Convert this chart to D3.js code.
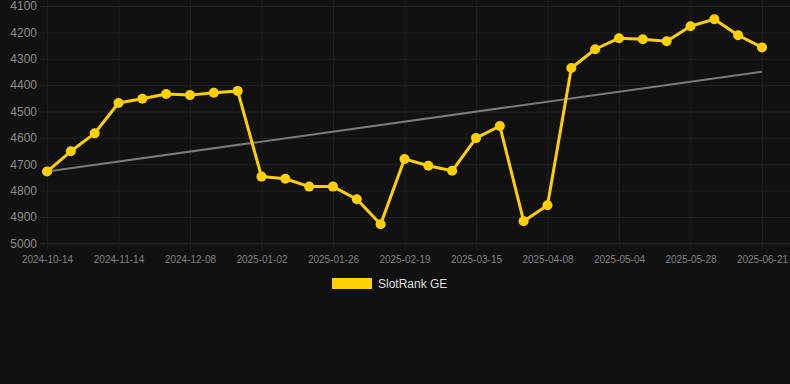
<!DOCTYPE html>
<html>
<head>
<meta charset="utf-8">
<script src="https://cdn.jsdelivr.net/npm/d3@7"></script>
<style>
  html, body { margin: 0; padding: 0; background: #111111; }
  svg { display: block; }
</style>
</head>
<body>
<svg id="chart" width="790" height="384"></svg>
<script>
const dates = [
  "2024-10-14","2024-10-24","2024-11-04","2024-11-14","2024-11-22","2024-11-30",
  "2024-12-08","2024-12-16","2024-12-24","2025-01-02","2025-01-10","2025-01-18",
  "2025-01-26","2025-02-03","2025-02-11","2025-02-19","2025-02-27","2025-03-07",
  "2025-03-15","2025-03-23","2025-03-31","2025-04-08","2025-04-16","2025-04-25",
  "2025-05-04","2025-05-12","2025-05-20","2025-05-28","2025-06-05","2025-06-13",
  "2025-06-21"
];
const rankValues = [
  4728, 4651, 4583, 4468, 4452, 4434,
  4438, 4429, 4422, 4747, 4755, 4785,
  4785, 4833, 4928, 4680, 4706, 4725,
  4601, 4555, 4916, 4856, 4335, 4264,
  4222, 4226, 4234, 4177, 4150, 4211,
  4257
];
const trendValues = [4728, 4349]; // trend line at first and last date
const yTicks = [4100, 4200, 4300, 4400, 4500, 4600, 4700, 4800, 4900, 5000];
const xTickLabels = ["2024-10-14","2024-11-14","2024-12-08","2025-01-02","2025-01-26",
  "2025-02-19","2025-03-15","2025-04-08","2025-05-04","2025-05-28","2025-06-21"];
const seriesName = "SlotRank GE";

const svg = d3.select("#chart");
const W = 790;

const x = d3.scalePoint().domain(dates).range([47, 762]);
const y = d3.scaleLinear().domain([4100, 5000]).range([6, 243.3]);

svg.append("rect").attr("width", W).attr("height", 384).attr("fill", "#111111");

const gY = svg.append("g")
  .attr("transform", "translate(40,0)")
  .call(d3.axisLeft(y).tickValues(yTicks).tickSize(-(W - 40)).tickPadding(3).tickFormat(d3.format("d")));
gY.select(".domain").remove();
gY.selectAll(".tick line").attr("stroke", d => d === 5000 ? "#2e2e2e" : "#222222").attr("stroke-width", 1);
gY.selectAll(".tick text")
  .attr("fill", "#8c8c8c")
  .attr("font-family", "Liberation Sans, Arial, sans-serif")
  .attr("font-size", 12);

const gX = svg.append("g")
  .attr("transform", "translate(0,250)")
  .call(d3.axisBottom(x).tickValues(xTickLabels).tickSize(-250).tickPadding(6));
gX.select(".domain").remove();
gX.selectAll(".tick line").attr("stroke", "#1e1e1e").attr("stroke-width", 1);
gX.selectAll(".tick text")
  .attr("fill", "#808080")
  .attr("font-family", "Liberation Sans, Arial, sans-serif")
  .attr("font-size", 10);

const trendDates = [dates[0], dates[dates.length - 1]];
svg.append("path")
  .datum(trendValues.map((v, i) => ({ d: trendDates[i], v })))
  .attr("fill", "none")
  .attr("stroke", "#7a7a7a")
  .attr("stroke-width", 2)
  .attr("d", d3.line().x(p => x(p.d)).y(p => y(p.v)));

const data = dates.map((d, i) => ({ d, v: rankValues[i] }));
svg.append("path")
  .datum(data)
  .attr("fill", "none")
  .attr("stroke", "#FFD000")
  .attr("stroke-width", 3)
  .attr("stroke-linejoin", "round")
  .attr("d", d3.line().x(p => x(p.d)).y(p => y(p.v)));

svg.append("g").selectAll("circle")
  .data(data).join("circle")
  .attr("cx", p => x(p.d))
  .attr("cy", p => y(p.v))
  .attr("r", 5)
  .attr("fill", "#FFD000");

const lg = svg.append("g");
lg.append("rect").attr("x", 332).attr("y", 278).attr("width", 40).attr("height", 11)
  .attr("fill", "#FFD000");
lg.append("text").attr("x", 378).attr("y", 288)
  .attr("fill", "#dddddd")
  .attr("font-family", "Liberation Sans, Arial, sans-serif")
  .attr("font-size", 12)
  .text(seriesName);
</script>
</body>
</html>
